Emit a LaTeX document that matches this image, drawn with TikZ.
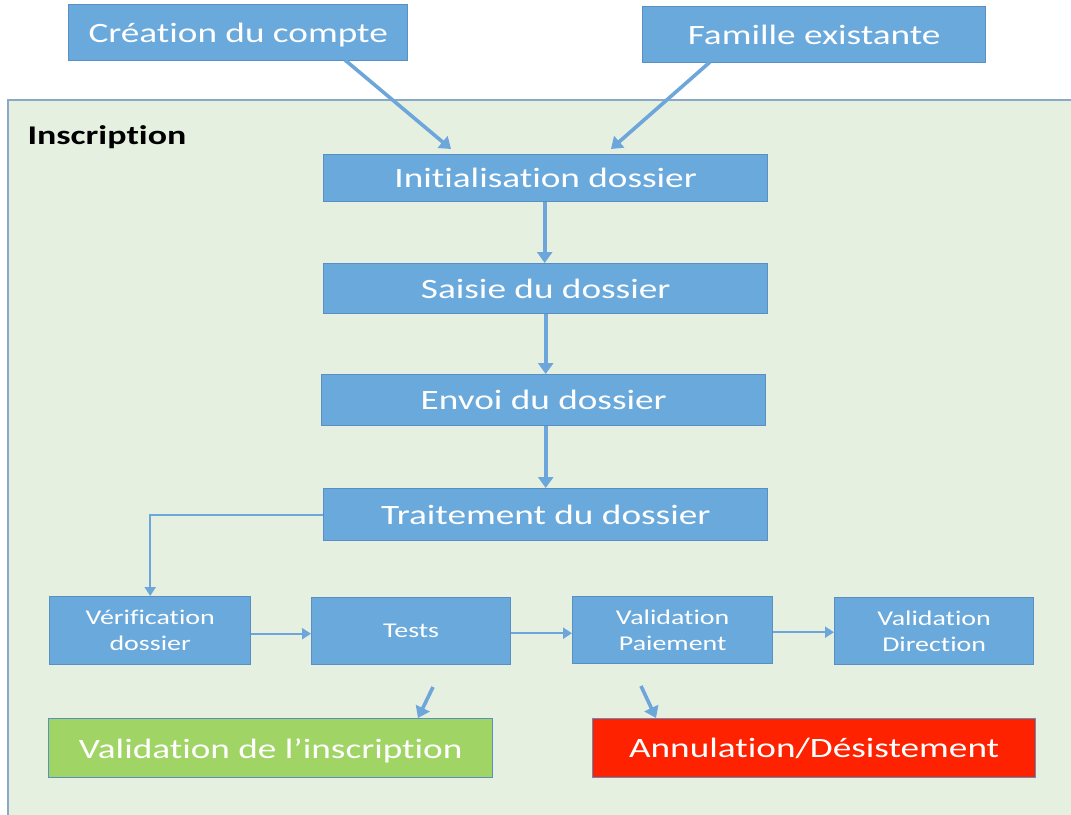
\documentclass[tikz,border=0pt]{standalone}
\usepackage{fontspec}
\setmainfont{Carlito}[FakeStretch=1.33, Ligatures=NoCommon]
\usetikzlibrary{arrows.meta}
\definecolor{boxblue}{HTML}{6AA9DC}
\definecolor{boxedge}{HTML}{5A8FC4}
\definecolor{arrowblue}{HTML}{6CA6DA}
\definecolor{bggreen}{HTML}{E6F0E0}
\definecolor{bgedge}{HTML}{8AA9C4}
\definecolor{okgreen}{HTML}{A0D464}
\definecolor{koreds}{HTML}{FF2200}
\tikzset{
  bx/.style={draw=boxedge, line width=1.4pt, fill=boxblue, text=white, inner sep=0pt, anchor=north west},
  onel/.style={text depth=0pt},
  flow/.style={draw=arrowblue, line width=3.6pt, -{Triangle[length=11pt,width=15pt]}},
  thin flow/.style={draw=arrowblue, line width=2pt, -{Triangle[length=9pt,width=11pt]}},
}
\begin{document}
\begin{tikzpicture}[x=1pt,y=-1pt]
\useasboundingbox (0,0) rectangle (1071,814);
\node[draw=bgedge, line width=1.5pt, fill=bggreen, inner sep=0pt, anchor=north west, minimum width=1070pt, minimum height=720pt] (frame) at (7,99) {};
\node[anchor=west, font=\fontsize{27}{30}\selectfont\bfseries] (lbl) at (24,137) {Inscription};

\node[bx, onel, minimum width=339pt, minimum height=56pt, font=\fontsize{28}{34}\selectfont] (cree) at (68,4) {Création du compte};
\node[bx, onel, minimum width=343pt, minimum height=56pt, font=\fontsize{28}{34}\selectfont] (fam) at (642,6) {Famille existante};

\node[bx, onel, minimum width=444pt, minimum height=47pt, font=\fontsize{28}{32}\selectfont] (init) at (323,154) {Initialisation dossier};
\node[bx, onel, minimum width=444pt, minimum height=50pt, font=\fontsize{28}{32}\selectfont] (sais) at (323,263) {Saisie du dossier};
\node[bx, onel, minimum width=444pt, minimum height=51pt, font=\fontsize{28}{32}\selectfont] (envo) at (321,374) {Envoi du dossier};
\node[bx, onel, minimum width=444pt, minimum height=52pt, font=\fontsize{28}{32}\selectfont] (trai) at (323,488) {Traitement du dossier};

\node[bx, minimum width=201pt, minimum height=68pt, align=center, font=\fontsize{21}{26}\selectfont] (veri) at (49,596) {Vérification\\dossier};
\node[bx, onel, minimum width=199pt, minimum height=67pt, font=\fontsize{21}{26}\selectfont] (test) at (311,597) {Tests};
\node[bx, minimum width=200pt, minimum height=67pt, align=center, font=\fontsize{21}{26}\selectfont] (vpai) at (572,596) {Validation\\Paiement};
\node[bx, minimum width=199pt, minimum height=67pt, align=center, font=\fontsize{21}{26}\selectfont] (vdir) at (834,597) {Validation\\Direction};

\node[bx, onel, fill=okgreen, minimum width=444pt, minimum height=59pt, font=\fontsize{28}{34}\selectfont] (vins) at (48,718) {Validation de l’inscription};
\node[bx, onel, fill=koreds, minimum width=443pt, minimum height=59pt, font=\fontsize{28}{34}\selectfont] (annu) at (592,718) {Annulation/Désistement};

\draw[flow] (345,60) -- (451,149);
\draw[flow] (710,62) -- (611,149);
\draw[flow] ([xshift=-1pt]init.south) -- ([xshift=-1pt]init.south |- sais.north);
\draw[flow] (sais.south) -- (sais.south |- envo.north);
\draw[flow] (sais.south |- envo.south) -- (sais.south |- trai.north);
\draw[thin flow] (trai.west) -| (veri.north);
\draw[thin flow] ([yshift=-3pt]veri.east) -- ([yshift=-3pt]veri.east -| test.west);
\draw[thin flow] ([yshift=-2pt]test.east) -- ([yshift=-2pt]test.east -| vpai.west);
\draw[thin flow] ([yshift=-2pt]vpai.east) -- ([yshift=-2pt]vpai.east -| vdir.west);
\coordinate (g0) at (433,687);
\coordinate (r0) at (641,686);
\draw[flow] (g0) -- (418,718);
\draw[flow] (r0) -- (656,718);
\end{tikzpicture}
\end{document}
